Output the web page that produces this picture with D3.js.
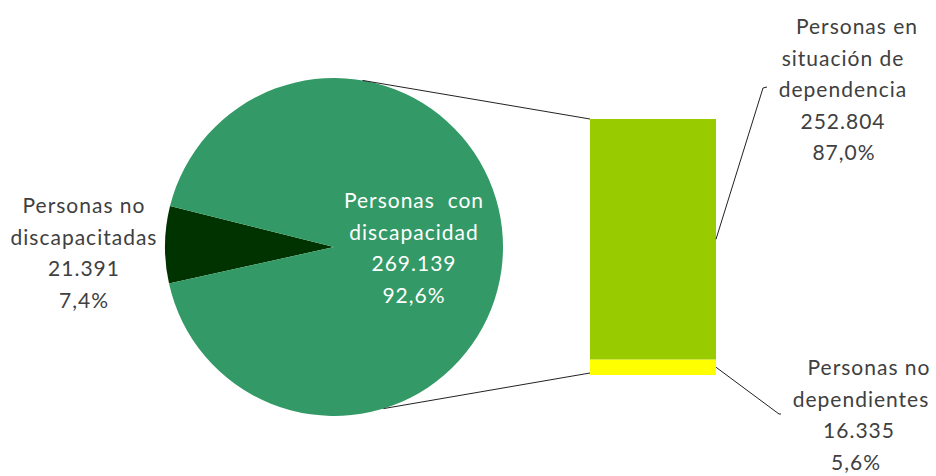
<!DOCTYPE html>
<html><head><meta charset="utf-8">
<script src="https://cdn.jsdelivr.net/npm/d3@7"></script>
<style>
html,body{margin:0;padding:0;background:#fff;}
svg text{font-family:Lato,"Open Sans",sans-serif;white-space:pre;}
</style></head>
<body><div id="chart"></div>
<script>
// ---- data ----
const pieCategories = ["Personas no discapacitadas", "Personas con discapacidad"];
const pieValues = [21391, 269139];
const piePercents = ["7,4%", "92,6%"];
const barCategories = ["Personas no dependientes", "Personas en situación de dependencia"];
const barValues = [16335, 252804];
const barPercents = ["5,6%", "87,0%"];
const fmt = v => d3.format(",")(v).replace(/,/g, ".");

const W = 936, H = 476;
const svg = d3.select("#chart").append("svg").attr("width", W).attr("height", H);

// ---- pie ----
const cx = 334, cy = 247, R = 169;
const deg = Math.PI / 180;
const pie = d3.pie().sort(null).startAngle(257.5 * deg).endAngle(257.5 * deg + 2 * Math.PI);
const arcs = pie(pieValues);
const arc = d3.arc().innerRadius(0).outerRadius(R);
const pieColors = ["#003300", "#339966"];
const gPie = svg.append("g").attr("transform", `translate(${cx},${cy})`);
gPie.selectAll("path").data(arcs).enter().append("path")
  .attr("d", arc).attr("fill", (d, i) => pieColors[i]);

// ---- bar ----
const barX = 590, barW = 126;
const y = d3.scaleLinear().domain([0, d3.sum(barValues)]).range([375, 119]);
const stacked = [];
let acc = 0;
barValues.forEach((v, i) => { stacked.push({ v, y0: acc, y1: acc + v, i }); acc += v; });
const barColors = ["#FFFF00", "#99CC00"];
svg.selectAll("rect.bar").data(stacked).enter().append("rect")
  .attr("class", "bar")
  .attr("x", barX).attr("width", barW)
  .attr("y", d => y(d.y1)).attr("height", d => y(d.y0) - y(d.y1))
  .attr("fill", d => barColors[d.i]);

// ---- connector lines pie -> bar ----
const pt = a => [cx + R * Math.sin(a * deg), cy - R * Math.cos(a * deg)];
const pTop = pt(9.7), pBot = pt(163);
svg.append("line").attr("x1", pTop[0]).attr("y1", pTop[1])
  .attr("x2", barX).attr("y2", y(d3.sum(barValues)))
  .attr("stroke", "#222").attr("stroke-width", 1);
svg.append("line").attr("x1", pBot[0]).attr("y1", pBot[1])
  .attr("x2", barX).attr("y2", y(0) - 2)
  .attr("stroke", "#222").attr("stroke-width", 1);

// ---- labels ----
const FS = 21, LH = 31.5;
function label(lines, xs, yTop, color) {
  const t = svg.append("text").attr("text-anchor", "middle")
    .attr("fill", color).attr("font-size", FS).attr("letter-spacing", 1.0);
  lines.forEach((s, i) => {
    t.append("tspan").attr("x", Array.isArray(xs) ? xs[i] : xs).attr("y", yTop + i * LH).text(s);
  });
}
// pie labels
label(["Personas no", "discapacitadas", fmt(pieValues[0]), piePercents[0]], 84, 213, "#404040");
label(["Personas  con", "discapacidad", fmt(pieValues[1]), piePercents[1]], 414, 208, "#ffffff");
// bar labels
label(["Personas en", "situación de", "dependencia", fmt(barValues[1]), barPercents[1]],
  [857, 843, 843, 843, 844], 34, "#404040");
label(["Personas no", "dependientes", fmt(barValues[0]), barPercents[0]],
  [869, 861, 859, 856], 375, "#404040");

// leader lines for bar labels
const midTop = (y(stacked[1].y0) + y(stacked[1].y1)) / 2;
const midBot = (y(stacked[0].y0) + y(stacked[0].y1)) / 2;
svg.append("polyline").attr("points", `${barX + barW},${midTop} 763,88 767,87`)
  .attr("fill", "none").attr("stroke", "#222").attr("stroke-width", 1);
svg.append("polyline").attr("points", `${barX + barW},${midBot} 779,414 781,414`)
  .attr("fill", "none").attr("stroke", "#222").attr("stroke-width", 1);
</script></body></html>
